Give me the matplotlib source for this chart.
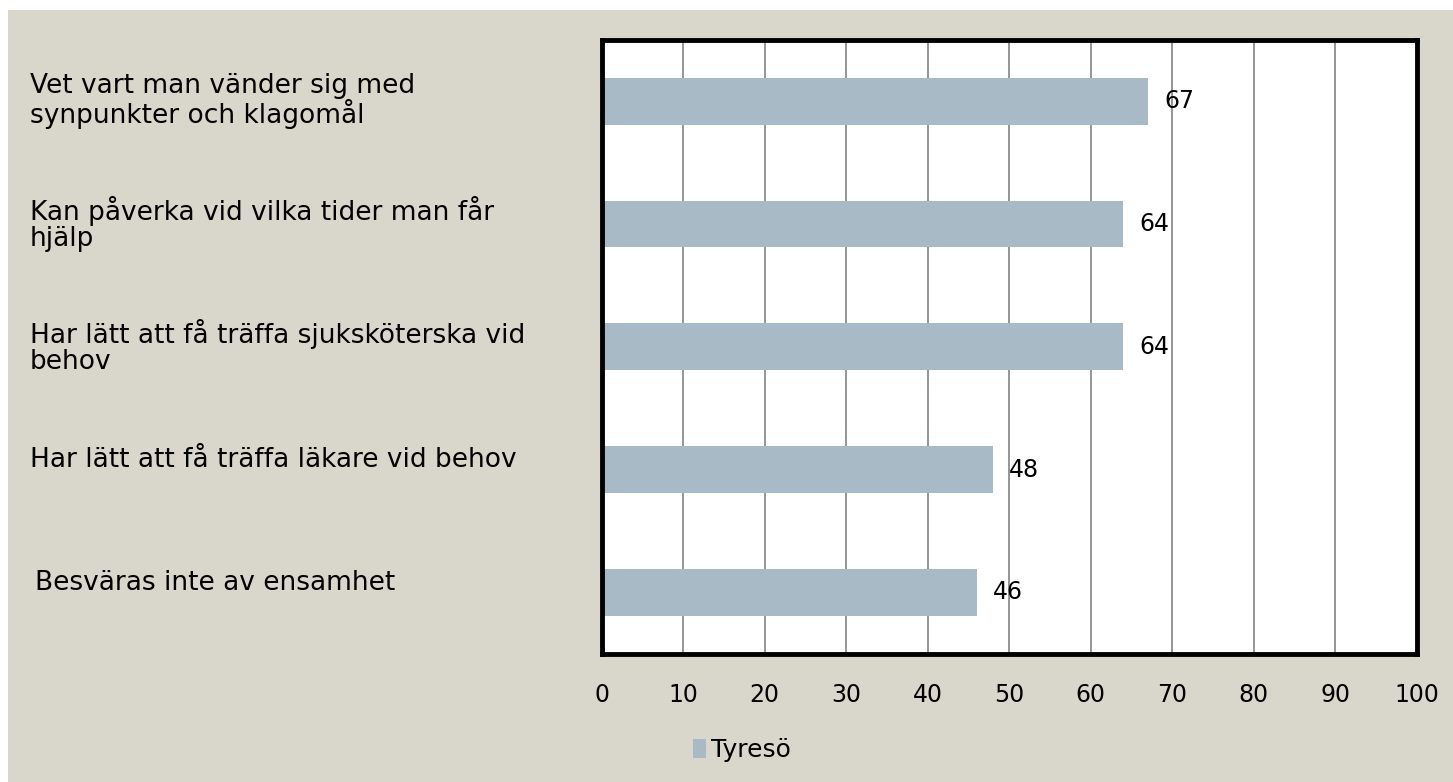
import matplotlib
matplotlib.use("Agg")
import matplotlib.pyplot as plt
import matplotlib.transforms as mtransforms
from matplotlib.patches import Rectangle

# DATA
categories = [
    "Vet vart man vänder sig med\nsynpunkter och klagomål",
    "Kan påverka vid vilka tider man får\nhjälp",
    "Har lätt att få träffa sjuksköterska vid\nbehov",
    "Har lätt att få träffa läkare vid behov",
    "Besväras inte av ensamhet",
]
values = [67, 64, 64, 48, 46]
series_name = "Tyresö"
xticks = [0, 10, 20, 30, 40, 50, 60, 70, 80, 90, 100]

BG = "#D9D7CB"
BAR = "#A7BAC5"

plt.rcParams["font.family"] = ["DejaVu Sans"]

fig = plt.figure(figsize=(14.53, 7.82), dpi=100, facecolor="white")
# beige panel with a thin white margin on top and left
fig.patches.append(Rectangle((8 / 1453, 0), 1, 1 - 10 / 782, transform=fig.transFigure,
                             facecolor=BG, edgecolor="none", zorder=-10))

ax = fig.add_axes([0.414, 0.164, 0.561, 0.785])
ax.set_facecolor("white")

ypos = list(range(len(categories)))
bars = ax.barh(ypos, values, height=0.38, color=BAR, zorder=2, label=series_name)

ax.set_xlim(0, 100)
ax.set_ylim(len(categories) - 0.5, -0.5)
ax.set_xticks(xticks)
ax.set_xticklabels([str(t) for t in xticks], fontsize=17)
ax.tick_params(axis="x", length=0, pad=21)
ax.set_yticks([])
ax.grid(axis="x", color="#8C8C8C", linewidth=1.3, zorder=1)
ax.set_axisbelow(True)
for sp in ax.spines.values():
    sp.set_linewidth(3.5)
    sp.set_color("black")

# value labels
for y, v in zip(ypos, values):
    ax.text(v + 2, y, str(v), va="center", ha="left", fontsize=17, zorder=3)

# category labels at left, outside the axes
trans = mtransforms.blended_transform_factory(fig.transFigure, ax.transData)
for y, lab in zip(ypos, categories):
    dy = 0 if "\n" in lab else -0.08
    xo = 35 / 1453 if y == len(categories) - 1 else 30 / 1453
    ax.text(xo, y + dy, lab, transform=trans, ha="left", va="center",
            fontsize=19, linespacing=1.0, clip_on=False)

leg = fig.legend(handles=[bars], labels=[series_name], loc="center",
                 bbox_to_anchor=(742 / 1453, 1 - 750 / 782), frameon=False,
                 fontsize=18, handlelength=0.55, handleheight=0.8, handletextpad=0.2)

fig.savefig("out.png", dpi=100, facecolor=fig.get_facecolor())
